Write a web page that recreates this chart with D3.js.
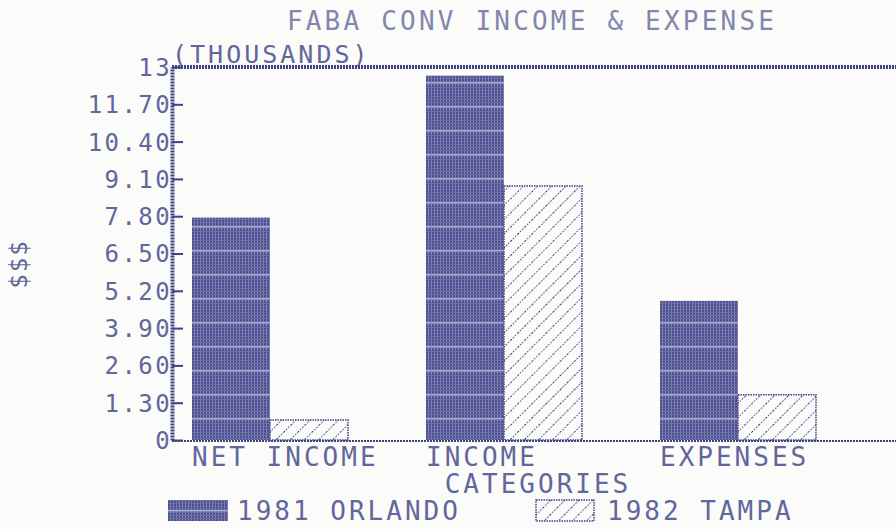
<!DOCTYPE html>
<html>
<head>
<meta charset="utf-8">
<script src="https://cdn.jsdelivr.net/npm/d3@7/dist/d3.min.js"></script>
<style>
  body { margin: 0; background: #fbfbfa; }
  svg { display: block; }
  text { font-family: "DejaVu Sans Mono", "Liberation Mono", monospace; }
</style>
</head>
<body>
<svg id="chart" width="896" height="529"></svg>
<script>
// categories and values (thousands of $)
const categories = ["NET INCOME", "INCOME", "EXPENSES"];
const seriesNames = ["1981 ORLANDO", "1982 TAMPA"];
const orlando1981 = [7.75, 12.7, 4.85];
const tampa1982 = [0.7, 8.85, 1.58];
const yTickValues = [0, 1.3, 2.6, 3.9, 5.2, 6.5, 7.8, 9.1, 10.4, 11.7, 13];
const yTickLabels = ["0", "1.30", "2.60", "3.90", "5.20", "6.50", "7.80", "9.10", "10.40", "11.70", "13"];

const ink = "#3f4282";
const textInk = "#62669a";

const svg = d3.select("#chart");
const defs = svg.append("defs");

// dense dot-matrix fill for 1981
const dense = defs.append("pattern")
  .attr("id", "dense").attr("patternUnits", "userSpaceOnUse")
  .attr("width", 3).attr("height", 24);
dense.append("rect").attr("width", 3).attr("height", 24).attr("fill", "#4b4e8e");
dense.append("rect").attr("x", 2).attr("width", 1).attr("height", 24).attr("fill", "#8386b8");
for (let y = 0; y < 24; y += 3) {
  dense.append("rect").attr("y", y).attr("width", 3).attr("height", 1).attr("fill", "#6c6fa6");
}
dense.append("rect").attr("y", 10).attr("width", 3).attr("height", 1.5).attr("fill", "#a9abd0");

// diagonal hatch for 1982
const hatch = defs.append("pattern")
  .attr("id", "hatch").attr("patternUnits", "userSpaceOnUse")
  .attr("width", 10).attr("height", 10)
  .attr("patternTransform", "rotate(45)");
hatch.append("rect").attr("width", 10).attr("height", 10).attr("fill", "#fbfbfa");
hatch.append("line").attr("x1", 0).attr("y1", 0).attr("x2", 0).attr("y2", 10)
  .attr("stroke", ink).attr("stroke-width", 2).attr("stroke-dasharray", "1.5,1.5");

const fills = ["url(#dense)", "url(#hatch)"];

const margin = { top: 67, left: 172, bottom: 440, right: 896 };

const x = d3.scaleBand()
  .domain(categories)
  .range([192, 894])
  .paddingInner(1 / 3)
  .paddingOuter(1 / 6)
  .align(0);

const xSub = d3.scaleBand()
  .domain(seriesNames)
  .range([0, x.bandwidth()]);

const y = d3.scaleLinear()
  .domain([0, 13])
  .range([margin.bottom, margin.top]);

// title
svg.append("text")
  .attr("x", 532).attr("y", 30)
  .attr("text-anchor", "middle")
  .attr("font-size", 26).attr("letter-spacing", 3.2)
  .attr("fill", "#8386ac")
  .text("FABA CONV INCOME & EXPENSE");

svg.append("text")
  .attr("x", 172).attr("y", 63)
  .attr("font-size", 25).attr("letter-spacing", 3)
  .attr("fill", textInk)
  .text("(THOUSANDS)");

// frame lines
svg.append("line")
  .attr("x1", margin.left).attr("x2", margin.right)
  .attr("y1", margin.top).attr("y2", margin.top)
  .attr("stroke", ink).attr("stroke-width", 4).attr("stroke-dasharray", "2,1");

svg.append("line")
  .attr("x1", margin.left).attr("x2", margin.right)
  .attr("y1", margin.bottom + 1).attr("y2", margin.bottom + 1)
  .attr("stroke", ink).attr("stroke-width", 2).attr("stroke-dasharray", "2,1");

// bars
const rows = categories.map((c, i) => ({ cat: c, vals: [orlando1981[i], tampa1982[i]] }));

svg.append("g")
  .selectAll("g")
  .data(rows)
  .join("g")
  .attr("transform", d => `translate(${x(d.cat)},0)`)
  .selectAll("rect")
  .data(d => d.vals.map((v, i) => ({ name: seriesNames[i], v, i })))
  .join("rect")
  .attr("x", d => xSub(d.name))
  .attr("width", xSub.bandwidth())
  .attr("y", d => y(d.v))
  .attr("height", d => y(0) - y(d.v))
  .attr("fill", d => fills[d.i])
  .attr("stroke", d => d.i === 1 ? ink : "none")
  .attr("stroke-width", 1.5)
  .attr("stroke-dasharray", "1.5,1");

// y axis
const yAxis = d3.axisLeft(y)
  .tickValues(yTickValues)
  .tickFormat((d, i) => yTickLabels[i])
  .tickSizeInner(-11)
  .tickSizeOuter(0)
  .tickPadding(6);

const gy = svg.append("g")
  .attr("transform", `translate(${margin.left},0)`)
  .call(yAxis);
gy.select(".domain")
  .attr("stroke", ink).attr("stroke-width", 4).attr("stroke-dasharray", "2,1");
gy.selectAll(".tick line").attr("stroke", ink).attr("stroke-width", 2);
gy.selectAll(".tick text")
  .attr("x", 0)
  .attr("font-size", 24).attr("letter-spacing", 2.4)
  .attr("fill", textInk)
  .attr("dy", "0.35em");

// category labels
svg.append("g")
  .selectAll("text")
  .data(categories)
  .join("text")
  .attr("x", d => x(d))
  .attr("y", 466)
  .attr("font-size", 26).attr("letter-spacing", 3)
  .attr("fill", textInk)
  .text(d => d);

svg.append("text")
  .attr("x", 538).attr("y", 493)
  .attr("text-anchor", "middle")
  .attr("font-size", 26).attr("letter-spacing", 3)
  .attr("fill", textInk)
  .text("CATEGORIES");

// $$$ axis label
svg.append("text")
  .attr("transform", "translate(27,264) rotate(-90)")
  .attr("text-anchor", "middle")
  .attr("font-size", 24).attr("letter-spacing", 2)
  .attr("fill", textInk)
  .text("$$$");

// legend
const legendX = [168, 536];
const legend = svg.append("g")
  .selectAll("g")
  .data(seriesNames)
  .join("g")
  .attr("transform", (d, i) => `translate(${legendX[i]},500)`);
legend.append("rect")
  .attr("width", (d, i) => i === 0 ? 60 : 58)
  .attr("height", 21)
  .attr("fill", (d, i) => fills[i])
  .attr("stroke", (d, i) => i === 1 ? ink : "none")
  .attr("stroke-width", 1.5)
  .attr("stroke-dasharray", "1.5,1");
legend.append("text")
  .attr("x", (d, i) => i === 0 ? 69 : 71)
  .attr("y", 20)
  .attr("font-size", 26).attr("letter-spacing", 3)
  .attr("fill", textInk)
  .text(d => d);
</script>
</body>
</html>
